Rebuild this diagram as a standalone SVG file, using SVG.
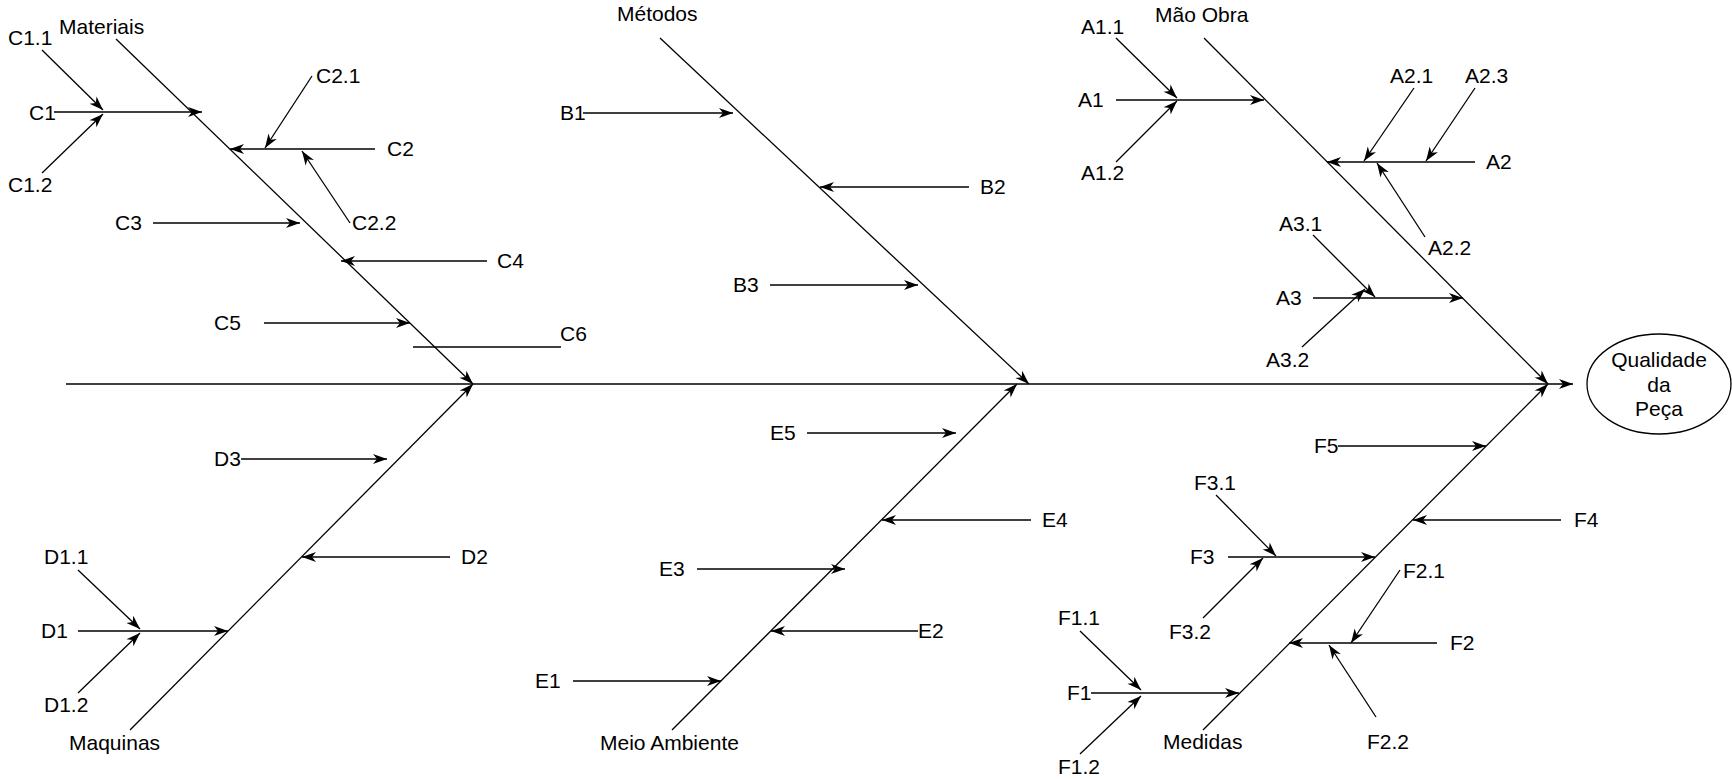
<svg xmlns="http://www.w3.org/2000/svg" width="1732" height="779" viewBox="0 0 1732 779">
  <style>
    text { font-family: "Liberation Sans", Arial, sans-serif; font-size: 21px; fill: #000; }
    .mid { text-anchor: middle; }
    #connectors line { stroke: #000; stroke-width: 1.3; fill: none; }
    #connectors line.a { marker-end: url(#ah); }
    .shape { fill: #fff; stroke: #000; stroke-width: 1.3; }
  </style>
  <defs>
    <marker id="ah" viewBox="-15 -6 16 12" markerWidth="16" markerHeight="12" refX="0" refY="0" orient="auto" markerUnits="userSpaceOnUse">
      <path d="M0,0 L-14,-5 L-10,0 L-14,5 Z" fill="#000"/>
    </marker>
  </defs>
  <rect width="1732" height="779" fill="#fff"/>

  <g id="connectors">
    <!-- spine and main bones -->
    <line class="a" x1="66" y1="384" x2="1573" y2="384"/>
    <line class="a" x1="116" y1="39" x2="473" y2="384"/>
    <line class="a" x1="660" y1="38" x2="1029" y2="384"/>
    <line class="a" x1="1204" y1="38" x2="1548" y2="384"/>
    <line class="a" x1="130" y1="730" x2="473" y2="384"/>
    <line class="a" x1="672" y1="730" x2="1017" y2="384"/>
    <line class="a" x1="1203" y1="730" x2="1548" y2="384"/>

    <!-- Materiais -->
    <line class="a" x1="54" y1="112" x2="202" y2="112"/>
    <line class="a" x1="42" y1="50" x2="103" y2="110"/>
    <line class="a" x1="42" y1="173" x2="103" y2="114"/>
    <line class="a" x1="375" y1="149" x2="230" y2="149"/>
    <line class="a" x1="312" y1="76" x2="265" y2="148"/>
    <line class="a" x1="350" y1="223" x2="302" y2="151"/>
    <line class="a" x1="153" y1="223" x2="300" y2="223"/>
    <line class="a" x1="487" y1="261" x2="341" y2="261"/>
    <line class="a" x1="264" y1="323" x2="410" y2="323"/>
    <line x1="413" y1="347" x2="561" y2="347"/>

    <!-- Métodos -->
    <line class="a" x1="583" y1="113" x2="733" y2="113"/>
    <line class="a" x1="969" y1="187" x2="820" y2="187"/>
    <line class="a" x1="770" y1="285" x2="918" y2="285"/>

    <!-- Mão Obra -->
    <line class="a" x1="1116" y1="100" x2="1264" y2="100"/>
    <line class="a" x1="1116" y1="38" x2="1177" y2="98"/>
    <line class="a" x1="1116" y1="162" x2="1177" y2="101"/>
    <line class="a" x1="1475" y1="162" x2="1327" y2="162"/>
    <line class="a" x1="1414" y1="88" x2="1364" y2="161"/>
    <line class="a" x1="1475" y1="88" x2="1426" y2="161"/>
    <line class="a" x1="1425" y1="237" x2="1377" y2="163"/>
    <line class="a" x1="1313" y1="298" x2="1463" y2="298"/>
    <line class="a" x1="1313" y1="235" x2="1375" y2="297"/>
    <line class="a" x1="1302" y1="347" x2="1365" y2="289"/>

    <!-- Maquinas -->
    <line class="a" x1="241" y1="459" x2="387" y2="459"/>
    <line class="a" x1="450" y1="557" x2="302" y2="557"/>
    <line class="a" x1="78" y1="631" x2="228" y2="631"/>
    <line class="a" x1="78" y1="570" x2="140" y2="629"/>
    <line class="a" x1="78" y1="693" x2="140" y2="633"/>

    <!-- Meio Ambiente -->
    <line class="a" x1="807" y1="433" x2="956" y2="433"/>
    <line class="a" x1="1031" y1="520" x2="882" y2="520"/>
    <line class="a" x1="697" y1="569" x2="845" y2="569"/>
    <line class="a" x1="918" y1="631" x2="771" y2="631"/>
    <line class="a" x1="573" y1="681" x2="721" y2="681"/>

    <!-- Medidas -->
    <line class="a" x1="1338" y1="446" x2="1486" y2="446"/>
    <line class="a" x1="1561" y1="520" x2="1413" y2="520"/>
    <line class="a" x1="1228" y1="557" x2="1375" y2="557"/>
    <line class="a" x1="1216" y1="495" x2="1276" y2="556"/>
    <line class="a" x1="1203" y1="618" x2="1263" y2="558"/>
    <line class="a" x1="1437" y1="643" x2="1289" y2="643"/>
    <line class="a" x1="1400" y1="570" x2="1351" y2="643"/>
    <line class="a" x1="1376" y1="717" x2="1329" y2="645"/>
    <line class="a" x1="1091" y1="693" x2="1239" y2="693"/>
    <line class="a" x1="1080" y1="631" x2="1141" y2="690"/>
    <line class="a" x1="1080" y1="754" x2="1141" y2="696"/>
  </g>

  <!-- effect -->
  <g id="effect">
    <ellipse class="shape" cx="1659" cy="384" rx="72" ry="50"/>
    <text class="mid" x="1659" y="367">Qualidade</text>
    <text class="mid" x="1659" y="392">da</text>
    <text class="mid" x="1659" y="416">Peça</text>
  </g>

  <!-- category heads -->
  <g id="materiais"><text x="59" y="34">Materiais</text></g>
  <g id="metodos"><text x="617" y="21">Métodos</text></g>
  <g id="mao-obra"><text x="1155" y="22">Mão Obra</text></g>
  <g id="maquinas"><text x="69" y="750">Maquinas</text></g>
  <g id="meio-ambiente"><text x="600" y="750">Meio Ambiente</text></g>
  <g id="medidas"><text x="1163" y="749">Medidas</text></g>

  <!-- causes: Materiais -->
  <g id="c1-1"><text x="8" y="45">C1.1</text></g>
  <g id="c1"><text x="29" y="120">C1</text></g>
  <g id="c1-2"><text x="8" y="192">C1.2</text></g>
  <g id="c2-1"><text x="316" y="83">C2.1</text></g>
  <g id="c2"><text x="387" y="156">C2</text></g>
  <g id="c2-2"><text x="352" y="230">C2.2</text></g>
  <g id="c3"><text x="115" y="230">C3</text></g>
  <g id="c4"><text x="497" y="268">C4</text></g>
  <g id="c5"><text x="214" y="330">C5</text></g>
  <g id="c6"><text x="560" y="341">C6</text></g>

  <!-- causes: Métodos -->
  <g id="b1"><text x="560" y="120">B1</text></g>
  <g id="b2"><text x="980" y="194">B2</text></g>
  <g id="b3"><text x="733" y="292">B3</text></g>

  <!-- causes: Mão Obra -->
  <g id="a1-1"><text x="1081" y="34">A1.1</text></g>
  <g id="a1"><text x="1078" y="107">A1</text></g>
  <g id="a1-2"><text x="1081" y="180">A1.2</text></g>
  <g id="a2-1"><text x="1390" y="83">A2.1</text></g>
  <g id="a2-3"><text x="1465" y="83">A2.3</text></g>
  <g id="a2"><text x="1486" y="169">A2</text></g>
  <g id="a2-2"><text x="1428" y="255">A2.2</text></g>
  <g id="a3-1"><text x="1279" y="231">A3.1</text></g>
  <g id="a3"><text x="1276" y="305">A3</text></g>
  <g id="a3-2"><text x="1266" y="367">A3.2</text></g>

  <!-- causes: Maquinas -->
  <g id="d3"><text x="214" y="466">D3</text></g>
  <g id="d2"><text x="461" y="564">D2</text></g>
  <g id="d1-1"><text x="44" y="564">D1.1</text></g>
  <g id="d1"><text x="41" y="638">D1</text></g>
  <g id="d1-2"><text x="44" y="712">D1.2</text></g>

  <!-- causes: Meio Ambiente -->
  <g id="e5"><text x="770" y="440">E5</text></g>
  <g id="e4"><text x="1042" y="527">E4</text></g>
  <g id="e3"><text x="659" y="576">E3</text></g>
  <g id="e2"><text x="918" y="638">E2</text></g>
  <g id="e1"><text x="535" y="688">E1</text></g>

  <!-- causes: Medidas -->
  <g id="f5"><text x="1314" y="453">F5</text></g>
  <g id="f3-1"><text x="1194" y="490">F3.1</text></g>
  <g id="f4"><text x="1574" y="527">F4</text></g>
  <g id="f3"><text x="1190" y="564">F3</text></g>
  <g id="f2-1"><text x="1403" y="578">F2.1</text></g>
  <g id="f3-2"><text x="1169" y="639">F3.2</text></g>
  <g id="f2"><text x="1450" y="650">F2</text></g>
  <g id="f1-1"><text x="1058" y="625">F1.1</text></g>
  <g id="f1"><text x="1067" y="700">F1</text></g>
  <g id="f1-2"><text x="1058" y="774">F1.2</text></g>
  <g id="f2-2"><text x="1367" y="749">F2.2</text></g>
</svg>
